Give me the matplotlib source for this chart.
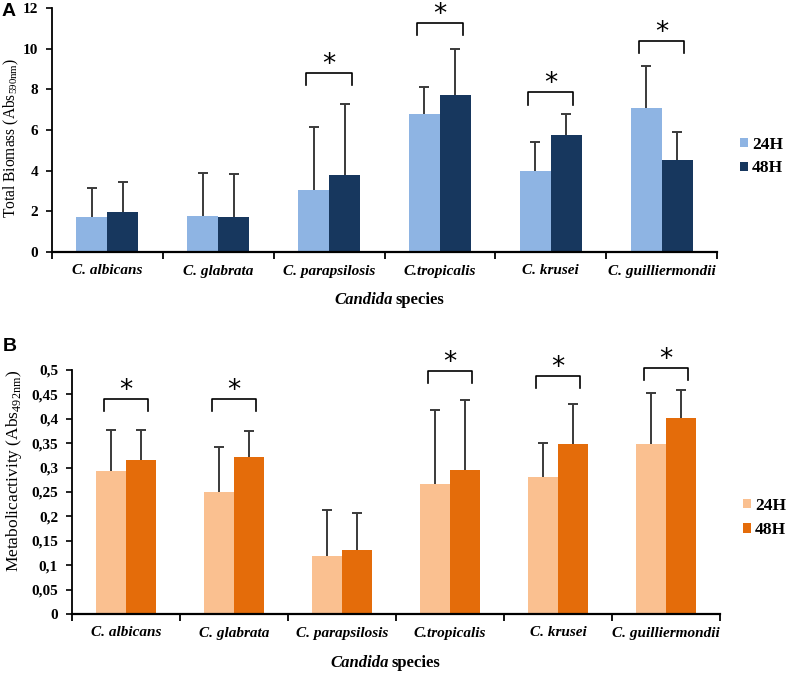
import matplotlib
matplotlib.use("Agg")
import matplotlib.pyplot as plt
import numpy as np

species = ["C. albicans", "C. glabrata", "C. parapsilosis", "C.tropicalis", "C. krusei", "C. guilliermondii"]
series = ["24H", "48H"]

# Panel A: Total biomass
biomass_24 = [1.74, 1.77, 3.07, 6.77, 3.98, 7.07]
biomass_48 = [1.97, 1.71, 3.79, 7.72, 5.76, 4.52]
biomass_24_err = [1.39, 2.10, 3.08, 1.33, 1.45, 2.09]
biomass_48_err = [1.49, 2.11, 3.51, 2.25, 1.01, 1.40]
biomass_sig = [False, False, True, True, True, True]
biomass_bracket = [None, None, 8.8, 11.25, 7.85, 10.4]
biomass_yticks = [0, 2, 4, 6, 8, 10, 12]

# Panel B: Metabolic activity
metab_24 = [0.293, 0.249, 0.119, 0.267, 0.280, 0.348]
metab_48 = [0.316, 0.322, 0.132, 0.295, 0.348, 0.402]
metab_24_err = [0.084, 0.094, 0.094, 0.151, 0.070, 0.104]
metab_48_err = [0.061, 0.053, 0.074, 0.144, 0.082, 0.057]
metab_sig = [True, True, False, True, True, True]
metab_bracket = [0.44, 0.44, None, 0.498, 0.488, 0.505]
metab_yticks = [0, 0.05, 0.1, 0.15, 0.2, 0.25, 0.3, 0.35, 0.4, 0.45, 0.5]
metab_yticklabels = ["0", "0,05", "0,1", "0,15", "0,2", "0,25", "0,3", "0,35", "0,4", "0,45", "0,5"]

W, H = 786, 674
fig = plt.figure(figsize=(W / 100, H / 100), dpi=100)
serif = "Liberation Serif"
sans = "Liberation Sans"
plt.rcParams["mathtext.fontset"] = "custom"
plt.rcParams["mathtext.rm"] = serif


def px_axes(l, t, r, b):
    return fig.add_axes([l / W, 1 - b / H, (r - l) / W, (b - t) / H])


def draw_panel(ax, v24, v48, e24, e48, sig, bracket, c24, c48, ymax, yticks, yticklabels,
               ylabel, ylab_size, ylab_xy, leg_xy, leg_sp):
    n = len(species)
    w = 0.28
    x = np.arange(n) + 0.5
    ax.bar(x - w / 2, v24, w, color=c24, label=series[0], zorder=2)
    ax.bar(x + w / 2, v48, w, color=c48, label=series[1], zorder=2)
    for xs, v, e in [(x - w / 2, v24, e24), (x + w / 2, v48, e48)]:
        top = np.array(v) + np.array(e)
        ax.vlines(xs, v, top, color="#3a3a3a", lw=1.4, zorder=3)
        ax.plot(xs, top, ls="none", marker="_", ms=7, mew=1.4, color="#3a3a3a", zorder=3)
    leg = 0.05 * ymax
    for i in range(n):
        if sig[i]:
            yb = bracket[i]
            ax.plot([x[i] - 0.205, x[i] - 0.205, x[i] + 0.205, x[i] + 0.205],
                    [yb - leg, yb, yb, yb - leg], color="black", lw=1.2, clip_on=False, zorder=4)
            ax.text(x[i], yb + 0.004 * ymax, "*", ha="center", va="baseline", fontsize=19,
                    family="DejaVu Sans", clip_on=False)
    ax.set_xlim(0, n)
    ax.set_ylim(0, ymax)
    ax.set_xticks(np.arange(n + 1))
    ax.set_xticklabels([])
    ax.set_xticks(x, minor=True)
    ax.set_xticklabels(species, minor=True, fontsize=11, family=serif, fontweight="bold", style="italic")
    ax.tick_params(axis="x", which="minor", length=0, pad=9)
    ax.tick_params(axis="x", which="major", length=5, width=1.3, direction="out")
    ax.set_yticks(yticks)
    ax.set_yticklabels(yticklabels, fontsize=11, family=serif, fontweight="bold")
    ax.tick_params(axis="y", length=4, width=1.2, direction="out", pad=6)
    for s in ["top", "right"]:
        ax.spines[s].set_visible(False)
    ax.spines["left"].set_linewidth(1.3)
    ax.spines["bottom"].set_linewidth(1.6)
    ax.set_ylabel(ylabel, fontsize=ylab_size, family=serif, va="center")
    ax.yaxis.set_label_coords(*ylab_xy)
    h, l = ax.get_legend_handles_labels()
    fig.legend(h, l, loc="center left", bbox_to_anchor=(leg_xy[0] / W, 1 - leg_xy[1] / H),
               frameon=False, borderpad=0, borderaxespad=0, handlelength=0.45, handleheight=0.45,
               handletextpad=0.25, labelspacing=leg_sp, prop=dict(family=serif, weight="bold", size=12.5))


axA = px_axes(52, 8, 717, 252)
draw_panel(axA, biomass_24, biomass_48, biomass_24_err, biomass_48_err, biomass_sig, biomass_bracket,
           "#8EB4E3", "#17375E", 12, biomass_yticks, [str(t) for t in biomass_yticks],
           r"Total Biomass (Abs$_{\mathregular{590nm}}$)", 11.2, ((11 - 52) / 665, 0.469), (740, 156.5), 0.45)

axB = px_axes(72, 370, 720, 614)
draw_panel(axB, metab_24, metab_48, metab_24_err, metab_48_err, metab_sig, metab_bracket,
           "#FAC090", "#E46C0A", 0.5, metab_yticks, metab_yticklabels,
           r"Metabolicactivity (Abs$_{\mathregular{492nm}}$)", 12.5, ((14 - 72) / 648, 0.587), (743, 518), 0.5)

# x-axis titles with mixed styles
for (xj, yc) in [(393, 300), (389, 663)]:
    fig.text(xj / W, 1 - yc / H, "Candida", ha="right", va="center", fontsize=12,
             family=serif, fontweight="bold", style="italic")
    fig.text((xj + 2) / W, 1 - yc / H, "species", ha="left", va="center", fontsize=12,
             family=serif, fontweight="bold")

fig.text(9 / W, 1 - 12 / H, "A", ha="center", va="center", fontsize=14, family=sans, fontweight="bold")
fig.text(10 / W, 1 - 347 / H, "B", ha="center", va="center", fontsize=14, family=sans, fontweight="bold")

fig.savefig("out.png", dpi=100)
